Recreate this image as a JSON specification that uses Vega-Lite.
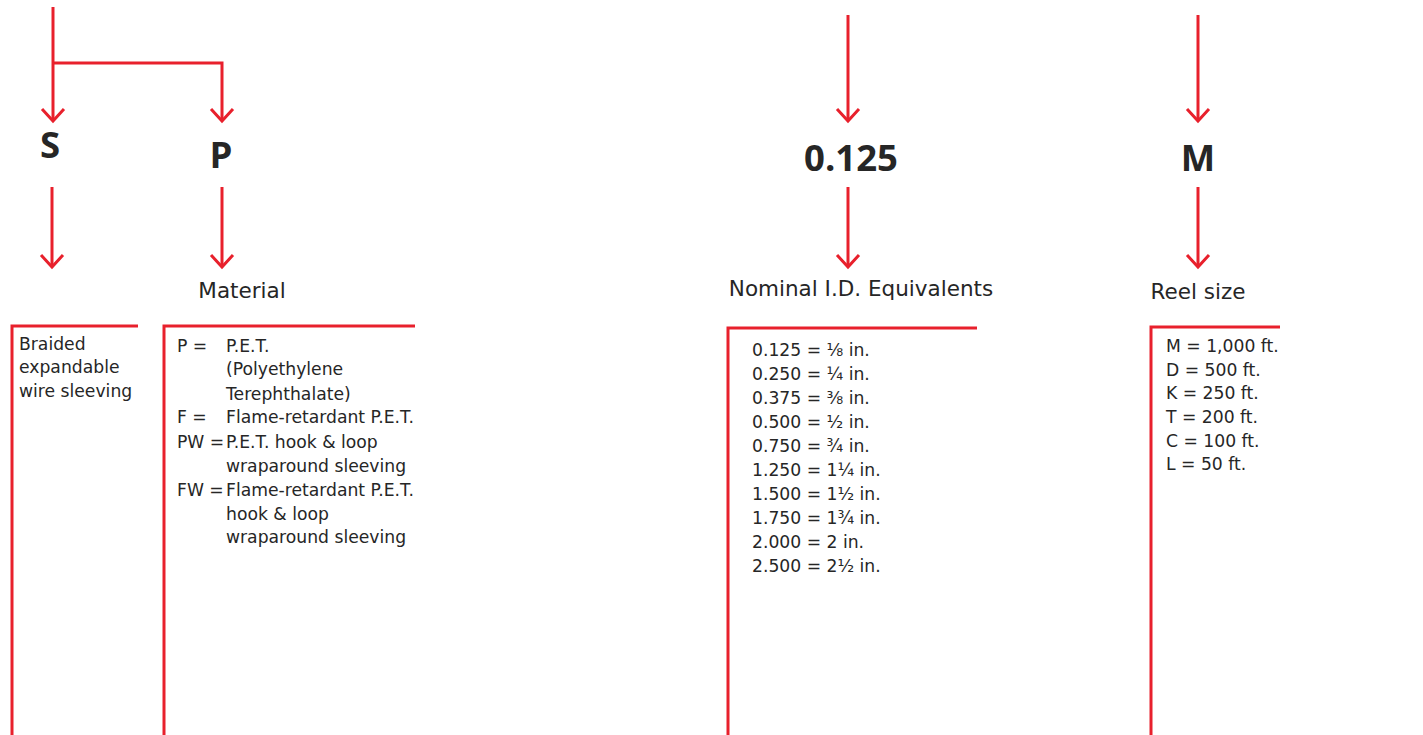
{
  "$schema": "https://vega.github.io/schema/vega-lite/v6.json",
  "width": 1423,
  "height": 735,
  "autosize": {"type": "fit", "contains": "padding"},
  "padding": 0,
  "background": "white",
  "config": {"view": {"stroke": null}},
  "datasets": {
    "lines": [
      {"id": "a1", "seq": 1, "x": 53, "y": 7}, {"id": "a1", "seq": 2, "x": 53, "y": 121},
      {"id": "a1h", "seq": 1, "x": 42, "y": 109}, {"id": "a1h", "seq": 2, "x": 53, "y": 121}, {"id": "a1h", "seq": 3, "x": 64, "y": 109},
      {"id": "br", "seq": 1, "x": 53, "y": 63}, {"id": "br", "seq": 2, "x": 222, "y": 63}, {"id": "br", "seq": 3, "x": 222, "y": 121},
      {"id": "p1h", "seq": 1, "x": 211, "y": 109}, {"id": "p1h", "seq": 2, "x": 222, "y": 121}, {"id": "p1h", "seq": 3, "x": 233, "y": 109},
      {"id": "s2", "seq": 1, "x": 52, "y": 187}, {"id": "s2", "seq": 2, "x": 52, "y": 267},
      {"id": "s2h", "seq": 1, "x": 41, "y": 255}, {"id": "s2h", "seq": 2, "x": 52, "y": 267}, {"id": "s2h", "seq": 3, "x": 63, "y": 255},
      {"id": "p2", "seq": 1, "x": 222, "y": 187}, {"id": "p2", "seq": 2, "x": 222, "y": 267},
      {"id": "p2h", "seq": 1, "x": 211, "y": 255}, {"id": "p2h", "seq": 2, "x": 222, "y": 267}, {"id": "p2h", "seq": 3, "x": 233, "y": 255},
      {"id": "n1", "seq": 1, "x": 848, "y": 15}, {"id": "n1", "seq": 2, "x": 848, "y": 121},
      {"id": "n1h", "seq": 1, "x": 837, "y": 109}, {"id": "n1h", "seq": 2, "x": 848, "y": 121}, {"id": "n1h", "seq": 3, "x": 859, "y": 109},
      {"id": "n2", "seq": 1, "x": 848, "y": 187}, {"id": "n2", "seq": 2, "x": 848, "y": 267},
      {"id": "n2h", "seq": 1, "x": 837, "y": 255}, {"id": "n2h", "seq": 2, "x": 848, "y": 267}, {"id": "n2h", "seq": 3, "x": 859, "y": 255},
      {"id": "m1", "seq": 1, "x": 1198, "y": 15}, {"id": "m1", "seq": 2, "x": 1198, "y": 121},
      {"id": "m1h", "seq": 1, "x": 1187, "y": 109}, {"id": "m1h", "seq": 2, "x": 1198, "y": 121}, {"id": "m1h", "seq": 3, "x": 1209, "y": 109},
      {"id": "m2", "seq": 1, "x": 1198, "y": 187}, {"id": "m2", "seq": 2, "x": 1198, "y": 267},
      {"id": "m2h", "seq": 1, "x": 1187, "y": 255}, {"id": "m2h", "seq": 2, "x": 1198, "y": 267}, {"id": "m2h", "seq": 3, "x": 1209, "y": 255},
      {"id": "b1", "seq": 1, "x": 12, "y": 736}, {"id": "b1", "seq": 2, "x": 12, "y": 326}, {"id": "b1", "seq": 3, "x": 138, "y": 326},
      {"id": "b2", "seq": 1, "x": 164, "y": 736}, {"id": "b2", "seq": 2, "x": 164, "y": 326}, {"id": "b2", "seq": 3, "x": 415, "y": 326},
      {"id": "b3", "seq": 1, "x": 728, "y": 736}, {"id": "b3", "seq": 2, "x": 728, "y": 328}, {"id": "b3", "seq": 3, "x": 977, "y": 328},
      {"id": "b4", "seq": 1, "x": 1151, "y": 736}, {"id": "b4", "seq": 2, "x": 1151, "y": 327}, {"id": "b4", "seq": 3, "x": 1280, "y": 327}
    ],
    "codes": [
      {"t": "S", "x": 50, "y": 147},
      {"t": "P", "x": 221, "y": 157},
      {"t": "0.125", "x": 851, "y": 160},
      {"t": "M", "x": 1198, "y": 160}
    ],
    "labels": [
      {"t": "Material", "x": 242, "y": 292},
      {"t": "Nominal I.D. Equivalents", "x": 861, "y": 290},
      {"t": "Reel size", "x": 1198, "y": 293}
    ],
    "body": [
      {"t": "Braided", "x": 19, "y": 345},
      {"t": "expandable", "x": 19, "y": 368},
      {"t": "wire sleeving", "x": 19, "y": 392},
      {"t": "P =", "x": 177, "y": 347},
      {"t": "P.E.T.", "x": 226, "y": 347},
      {"t": "(Polyethylene", "x": 226, "y": 370},
      {"t": "Terephthalate)", "x": 226, "y": 395},
      {"t": "F =", "x": 177, "y": 418},
      {"t": "Flame-retardant P.E.T.", "x": 226, "y": 418},
      {"t": "PW =", "x": 177, "y": 443},
      {"t": "P.E.T. hook & loop", "x": 226, "y": 443},
      {"t": "wraparound sleeving", "x": 226, "y": 467},
      {"t": "FW =", "x": 177, "y": 491},
      {"t": "Flame-retardant P.E.T.", "x": 226, "y": 491},
      {"t": "hook & loop", "x": 226, "y": 515},
      {"t": "wraparound sleeving", "x": 226, "y": 538},
      {"t": "0.125 = ⅛ in.", "x": 752, "y": 351},
      {"t": "0.250 = ¼ in.", "x": 752, "y": 375},
      {"t": "0.375 = ⅜ in.", "x": 752, "y": 399},
      {"t": "0.500 = ½ in.", "x": 752, "y": 423},
      {"t": "0.750 = ¾ in.", "x": 752, "y": 447},
      {"t": "1.250 = 1¼ in.", "x": 752, "y": 471},
      {"t": "1.500 = 1½ in.", "x": 752, "y": 495},
      {"t": "1.750 = 1¾ in.", "x": 752, "y": 519},
      {"t": "2.000 = 2 in.", "x": 752, "y": 543},
      {"t": "2.500 = 2½ in.", "x": 752, "y": 567},
      {"t": "M = 1,000 ft.", "x": 1166, "y": 347},
      {"t": "D = 500 ft.", "x": 1166, "y": 371},
      {"t": "K = 250 ft.", "x": 1166, "y": 394},
      {"t": "T = 200 ft.", "x": 1166, "y": 418},
      {"t": "C = 100 ft.", "x": 1166, "y": 442},
      {"t": "L = 50 ft.", "x": 1166, "y": 465}
    ]
  },
  "encoding": {
    "x": {"field": "x", "type": "quantitative", "scale": {"domain": [0, 1423], "nice": false, "zero": false}, "axis": null},
    "y": {"field": "y", "type": "quantitative", "scale": {"domain": [0, 735], "nice": false, "zero": false, "reverse": true}, "axis": null}
  },
  "layer": [
    {
      "data": {"name": "lines"},
      "mark": {"type": "line", "color": "#e8202c", "strokeWidth": 3, "strokeJoin": "miter", "strokeCap": "butt", "clip": true},
      "encoding": {
        "detail": {"field": "id", "type": "nominal"},
        "order": {"field": "seq", "type": "quantitative"}
      }
    },
    {
      "data": {"name": "codes"},
      "mark": {"type": "text", "font": "Open Sans", "fontWeight": "bold", "fontSize": 36.5, "color": "#262626", "align": "center", "baseline": "middle"},
      "encoding": {"text": {"field": "t", "type": "nominal"}}
    },
    {
      "data": {"name": "labels"},
      "mark": {"type": "text", "font": "DejaVu Sans", "fontSize": 21.5, "color": "#262626", "align": "center", "baseline": "middle"},
      "encoding": {"text": {"field": "t", "type": "nominal"}}
    },
    {
      "data": {"name": "body"},
      "mark": {"type": "text", "font": "DejaVu Sans", "fontSize": 17.2, "color": "#262626", "align": "left", "baseline": "middle"},
      "encoding": {"text": {"field": "t", "type": "nominal"}}
    }
  ]
}
